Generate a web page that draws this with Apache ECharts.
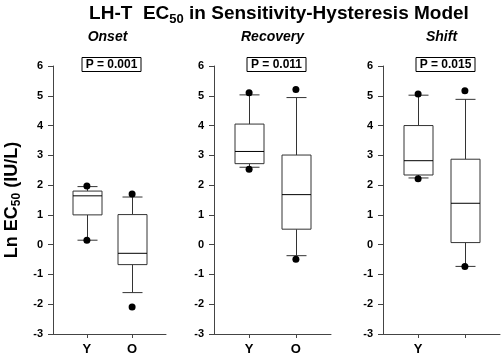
<!DOCTYPE html>
<html>
<head>
<meta charset="utf-8">
<script src="https://cdn.jsdelivr.net/npm/echarts@6.0.0/dist/echarts.min.js"></script>
<style>
html, body { margin: 0; padding: 0; background: #fff; }
#main { width: 502px; height: 356px; }
</style>
</head>
<body>
<div id="main"></div>
<script>
// groups on the x axis of each panel
let groups = ["Y", "O"];
let panelNames = ["Onset", "Recovery", "Shift"];
let pValues = ["P = 0.001", "P = 0.011", "P = 0.015"];
let yTicks = [-3, -2, -1, 0, 1, 2, 3, 4, 5, 6];

// box stats: [min whisker, Q1, median, Q3, max whisker]
let onsetY = [0.15, 1.0, 1.64, 1.8, 1.95];
let onsetO = [-1.61, -0.67, -0.29, 1.01, 1.6];
let recoveryY = [2.6, 2.72, 3.13, 4.05, 5.03];
let recoveryO = [-0.37, 0.52, 1.68, 3.01, 4.94];
let shiftY = [2.24, 2.34, 2.82, 4.0, 5.02];
let shiftO = [-0.73, 0.07, 1.39, 2.87, 4.88];

// outlier dots
let onsetDotsY = [1.97, 0.15];
let onsetDotsO = [1.7, -2.09];
let recoveryDotsY = [5.1, 2.53];
let recoveryDotsO = [5.21, -0.49];
let shiftDotsY = [5.06, 2.21];
let shiftDotsO = [5.17, -0.73];

let boxes = [[onsetY, onsetO], [recoveryY, recoveryO], [shiftY, shiftO]];
let dots = [[onsetDotsY, onsetDotsO], [recoveryDotsY, recoveryDotsO], [shiftDotsY, shiftDotsO]];
let xLabelShown = [[true, true], [true, true], [true, false]];

let font = "Liberation Sans, Arial, sans-serif";
let gridLeft = [49, 214, 383];
let gridTop = 66;
let gridW = 117;
let gridH = 270;

function renderBox(params, api) {
    let x = api.value(0);
    let lo = api.coord([x, api.value(1)]);
    let q1 = api.coord([x, api.value(2)]);
    let md = api.coord([x, api.value(3)]);
    let q3 = api.coord([x, api.value(4)]);
    let hi = api.coord([x, api.value(5)]);
    let cx = Math.round(lo[0]) + 0.5;
    let bw = 29, cw = 20;
    let st = { stroke: "#333", lineWidth: 1 };
    return {
        type: "group",
        children: [
            { type: "line", shape: { x1: cx, y1: hi[1], x2: cx, y2: q3[1] }, style: st },
            { type: "line", shape: { x1: cx, y1: q1[1], x2: cx, y2: lo[1] }, style: st },
            { type: "line", shape: { x1: cx - cw / 2, y1: hi[1], x2: cx + cw / 2, y2: hi[1] }, style: st },
            { type: "line", shape: { x1: cx - cw / 2, y1: lo[1], x2: cx + cw / 2, y2: lo[1] }, style: st },
            {
                type: "rect",
                shape: { x: cx - bw / 2, y: q3[1], width: bw, height: q1[1] - q3[1] },
                style: { stroke: "#333", fill: "#fff", lineWidth: 1 },
            },
            { type: "line", shape: { x1: cx - bw / 2, y1: md[1], x2: cx + bw / 2, y2: md[1] }, style: { stroke: "#000", lineWidth: 1 } },
        ],
    };
}

let dom = document.getElementById("main");
let myChart = echarts.init(dom, null, { renderer: "canvas" });

let titles = [{
    text: "LH-T  EC{sub|50} in Sensitivity-Hysteresis Model",
    left: 274,
    top: -3,
    textAlign: "center",
    textStyle: {
        fontFamily: font, fontSize: 19, fontWeight: "bold", color: "#000", lineHeight: 24,
        rich: { sub: { fontFamily: font, fontSize: 13, fontWeight: "bold", color: "#000", lineHeight: 10, verticalAlign: "bottom" } },
    },
}];
let grids = [], xAxes = [], yAxes = [], series = [];

panelNames.forEach(function (name, i) {
    let center = gridLeft[i] + gridW / 2;
    titles.push({
        text: name, left: center, top: 30, textAlign: "center", padding: 0,
        textStyle: { fontFamily: font, fontSize: 14, fontWeight: "bold", fontStyle: "italic", color: "#000" },
    });
    titles.push({
        text: pValues[i], left: center, top: 57, textAlign: "center",
        padding: [2, 4, 1, 4], borderColor: "#000", borderWidth: 1, backgroundColor: "#fff",
        textStyle: { fontFamily: font, fontSize: 12, fontWeight: "bold", color: "#000" },
    });
    grids.push({ left: gridLeft[i], top: gridTop, width: gridW, height: gridH });
    xAxes.push({
        type: "value", gridIndex: i, min: 0.25, max: 2.75,
        splitLine: { show: false },
        axisLine: { onZero: false, lineStyle: { color: "#444", width: 1 } },
        axisTick: { length: 4, lineStyle: { color: "#444" }, customValues: [1, 2] },
        axisLabel: {
            customValues: [1, 2], margin: 9,
            fontFamily: font, fontSize: 13, fontWeight: "bold", color: "#000",
            formatter: function (v) {
                let k = Math.round(v) - 1;
                return xLabelShown[i][k] ? groups[k] : "";
            },
        },
    });
    let yAx = {
        type: "value", gridIndex: i, min: yTicks[0], max: yTicks[yTicks.length - 1], interval: 1,
        splitLine: { show: false },
        axisLine: { show: true, onZero: false, lineStyle: { color: "#444", width: 1 } },
        axisTick: { show: true, length: 5, lineStyle: { color: "#444" } },
        axisLabel: { margin: 10, fontFamily: font, fontSize: 11, fontWeight: "bold", color: "#000" },
    };
    if (i === 0) {
        yAx.name = "Ln EC{sub|50} (IU/L)";
        yAx.nameLocation = "middle";
        yAx.nameGap = 30;
        yAx.nameTextStyle = {
            fontFamily: font, fontSize: 18, fontWeight: "bold", color: "#000", lineHeight: 22,
            rich: { sub: { fontFamily: font, fontSize: 12, fontWeight: "bold", color: "#000", lineHeight: 9, verticalAlign: "bottom" } },
        };
    }
    yAxes.push(yAx);
    series.push({
        type: "custom", xAxisIndex: i, yAxisIndex: i,
        renderItem: renderBox,
        encode: { x: 0, y: [1, 2, 3, 4, 5] },
        data: groups.map(function (g, k) { return [k + 1].concat(boxes[i][k]); }),
        z: 2,
    });
    series.push({
        type: "scatter", xAxisIndex: i, yAxisIndex: i,
        symbolSize: 7,
        itemStyle: { color: "#000", opacity: 1 },
        data: dots[i].reduce(function (acc, arr, k) {
            return acc.concat(arr.map(function (v) { return [k + 1, v]; }));
        }, []),
        z: 3,
    });
});

let option = {
    animation: false,
    backgroundColor: "#fff",
    title: titles,
    grid: grids,
    xAxis: xAxes,
    yAxis: yAxes,
    series: series,
};

if (option && typeof option === "object") {
    myChart.setOption(option);
}

window.addEventListener("resize", myChart.resize);
</script>
</body>
</html>
